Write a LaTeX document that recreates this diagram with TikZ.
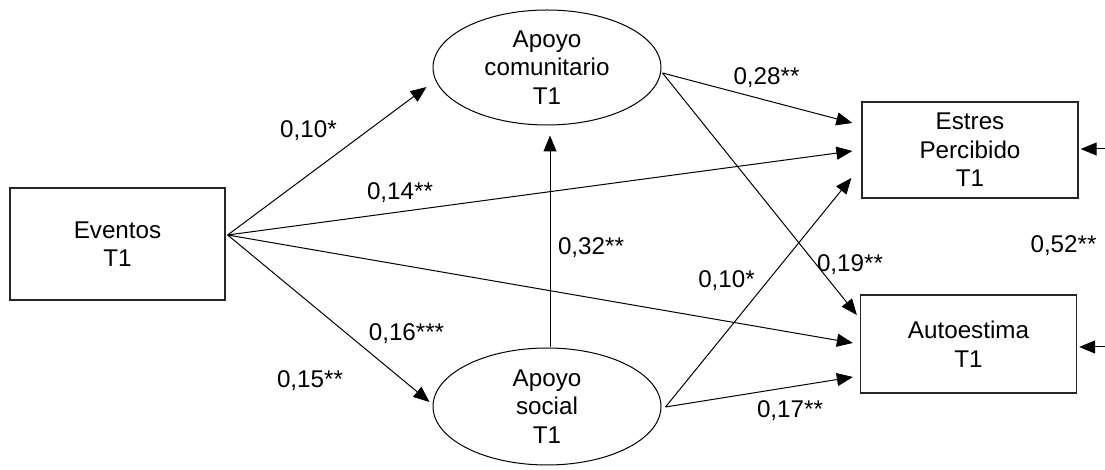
\documentclass[tikz,border=0pt]{standalone}
\usepackage{fontspec}
\setmainfont{Liberation Sans}
\usetikzlibrary{shapes.geometric,arrows.meta}
\tikzset{
  every node/.style={font=\fontsize{24.2}{28.5}\selectfont},
  boxnode/.style={draw=black!85, line width=1.3pt, rectangle, inner sep=0pt, align=center},
  ellnode/.style={draw, line width=1pt, ellipse, inner sep=0pt, align=center, minimum width=228pt},
  conn/.style={line width=1pt, -{Triangle[length=16pt,width=13pt]}},
  coef/.style={anchor=base, inner sep=0pt}
}
\begin{document}
\begin{tikzpicture}[x=1pt,y=1pt]
\useasboundingbox (0,0) rectangle (1105,470);
% nodes
\node[boxnode, minimum width=215pt, minimum height=112pt] (ev) at (117.5,226) {Eventos\\T1};
\node[ellnode, minimum height=115pt] (com) at (547,402.5) {Apoyo\\comunitario\\T1};
\node[ellnode, minimum height=117pt] (soc) at (547,63.5) {Apoyo\\social\\T1};
\node[boxnode, minimum width=216pt, minimum height=96pt] (es) at (970,320) {Estres\\Percibido\\T1};
\node[boxnode, minimum width=216pt, minimum height=98pt] (au) at (968.5,126) {Autoestima\\T1};
\coordinate (esin) at (1105,321);
\coordinate (auin) at (1105,123);
% connectors from Eventos
\draw[conn] ([shift={(2pt,9pt)}]ev.east) -- ([shift={(-6pt,-19.5pt)}]com.west);
\draw[conn] ([shift={(2pt,9pt)}]ev.east) -- ([shift={(-9pt,-1pt)}]es.west);
\draw[conn] ([shift={(2pt,9pt)}]ev.east) -- ([shift={(-7pt,1pt)}]au.west);
\draw[conn] ([shift={(2pt,9pt)}]ev.east) -- ([shift={(-3pt,4.5pt)}]soc.west);
% social -> comunitario
\draw[conn] ([xshift=3pt]soc.north) -- ([shift={(3pt,-10pt)}]com.south);
% from comunitario
\draw[conn] ([shift={(1pt,-5.5pt)}]com.east) -- ([shift={(-9pt,27pt)}]es.west);
\draw[conn] ([shift={(1pt,-5.5pt)}]com.east) -- ([shift={(-3pt,29pt)}]au.west);
% from social
\draw[conn] ([shift={(4pt,-0.5pt)}]soc.east) -- ([shift={(-10pt,-28pt)}]es.west);
\draw[conn] ([shift={(4pt,-0.5pt)}]soc.east) -- ([shift={(-7pt,-33pt)}]au.west);
% residual arrows
\draw[conn] (esin) -- ([shift={(2pt,1pt)}]es.east);
\draw[conn] (auin) -- ([shift={(2pt,-3pt)}]au.east);
% coefficients
\node[coef] (c1) at (308.5,332) {0,10*};
\node[coef] (c2) at (400,270) {0,14**};
\node[coef] (c3) at (406.5,129) {0,16***};
\node[coef] (c4) at (310,82) {0,15**};
\node[coef] (c5) at (591,215) {0,32**};
\node[coef] (c6) at (766.5,385) {0,28**};
\node[coef] (c7) at (726.5,182) {0,10*};
\node[coef] (c8) at (850,198) {0,19**};
\node[coef] (c9) at (790,52) {0,17**};
\node[coef] (c10) at (1063.5,217) {0,52**};
\end{tikzpicture}
\end{document}
